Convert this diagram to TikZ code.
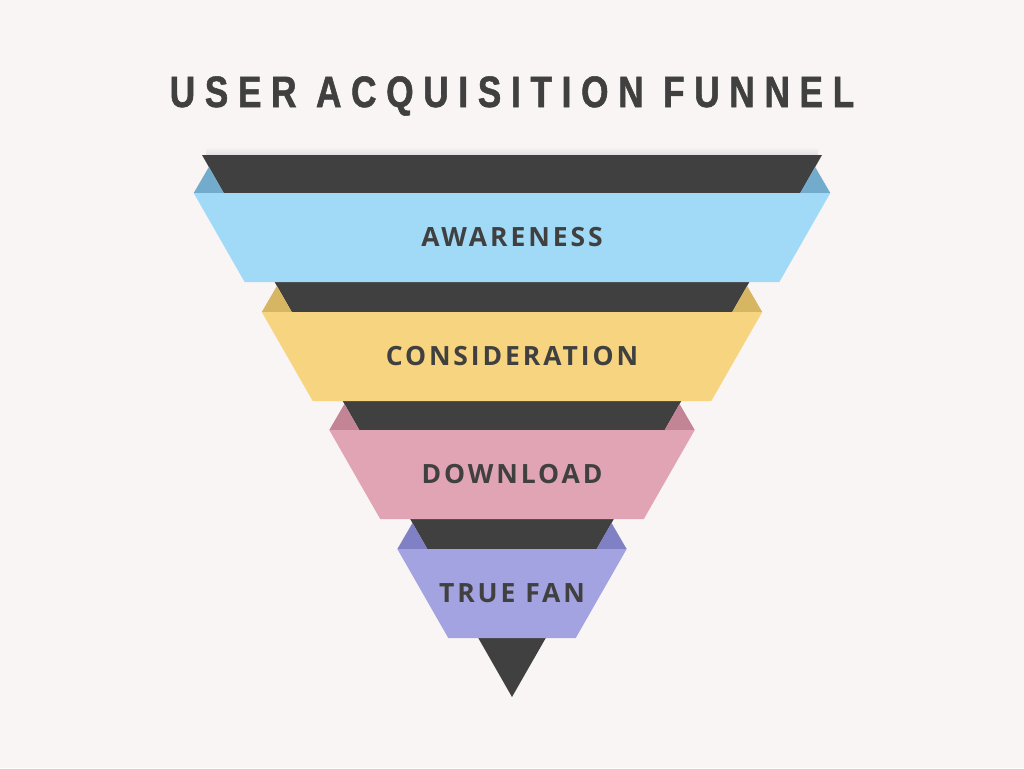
\documentclass[tikz,border=0pt]{standalone}
\usepackage{fontspec}
\setmainfont{Liberation Sans}
\newfontfamily\titlefont[FakeStretch=0.80,FakeBold=1.2,LetterSpace=22]{Liberation Sans}
\newfontfamily\bandfont[LetterSpace=11]{Open Sans}
\usepackage{tikz}
\usetikzlibrary{positioning}

\definecolor{bgpaper}{HTML}{F9F5F4}
\definecolor{funneldark}{HTML}{404040}
\definecolor{awareblue}{HTML}{A0DAF7}
\definecolor{awarefold}{HTML}{72ABCB}
\definecolor{considyellow}{HTML}{F6D480}
\definecolor{considfold}{HTML}{D6B662}
\definecolor{downpink}{HTML}{E1A4B4}
\definecolor{downfold}{HTML}{C38595}
\definecolor{fanpurple}{HTML}{A3A3E1}
\definecolor{fanfold}{HTML}{8080C4}

\tikzset{
  titletext/.style={text=funneldark, font=\titlefont\fontsize{44}{44}\selectfont\bfseries},
  bandlabel/.style={text=funneldark, font=\bandfont\fontsize{26.5}{26.5}\selectfont\bfseries},
}

\begin{document}
\begin{tikzpicture}[x=1pt, y=-1pt]
    % Page background
    \fill[bgpaper] (0,0) rectangle (1024,768);
    \useasboundingbox (0,0) rectangle (1024,768);

    % Title
    \node[titletext] (title) at (512,96) {USER ACQUISITION FUNNEL};

    % Soft shadow on the top edge
    \shade[top color=bgpaper, bottom color=black!12] (206,147) rectangle (818,155);

    % Dark funnel body, apex at the bottom
    \fill[funneldark] (202,155) -- (822,155) -- (512,697) -- cycle;

    % Bands: top edge / node name / label / band colour / fold colour
    \foreach \top/\name/\txt/\col/\fcol in {
        193/aware/AWARENESS/awareblue/awarefold,
        312/consid/CONSIDERATION/considyellow/considfold,
        430/down/DOWNLOAD/downpink/downfold,
        549/fan/TRUE FAN/fanpurple/fanfold} {
      % half widths of the dark funnel at band top, band bottom and fold tip
      \pgfmathsetmacro\hwtop{0.57196*(697-\top)}
      \pgfmathsetmacro\hwbot{0.57196*(697-\top-89)}
      \pgfmathsetmacro\hwtip{0.57196*(697-\top+26)}

      % folded-back corners
      \fill[\fcol] (512-\hwtop-30,\top) -- (512-\hwtip,\top-26) -- (512-\hwtop,\top) -- cycle;
      \fill[\fcol] (512+\hwtop+30,\top) -- (512+\hwtip,\top-26) -- (512+\hwtop,\top) -- cycle;

      % the band itself
      \fill[\col] (512-\hwtop-30,\top) -- (512+\hwtop+30,\top)
                  -- (512+\hwbot+30,\top+89) -- (512-\hwbot-30,\top+89) -- cycle;
      \node[bandlabel] (\name) at (512,\top+44.5) {\txt};
    }
\end{tikzpicture}
\end{document}
